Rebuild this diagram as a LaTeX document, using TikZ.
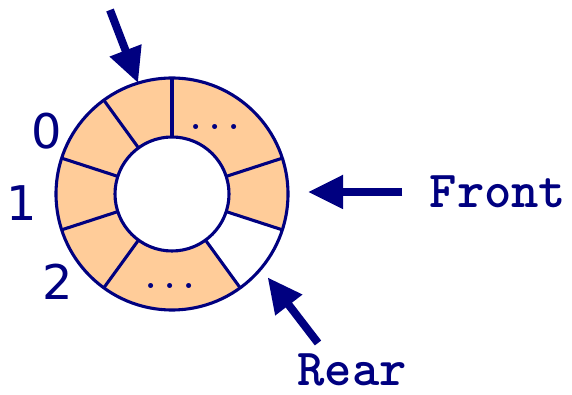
\documentclass[tikz,border=0pt]{standalone}
\usepackage{fontspec}
\setmainfont{DejaVu Sans}
\usetikzlibrary{arrows.meta}
\definecolor{navy}{RGB}{0,0,128}
\definecolor{slot}{RGB}{255,204,153}
\tikzset{
  ringline/.style={draw=navy, line width=2.2pt},
  arr/.style={navy, line width=0.2cm, -{Triangle[length=0.875cm,width=0.8cm]}},
  idx/.style={navy, inner sep=0pt, font=\fontsize{34}{36}\selectfont},
  tag/.style={navy, inner sep=0pt, font=\ttfamily\bfseries\fontsize{37}{40}\selectfont},
  dots/.style={navy, inner sep=0pt, anchor=base, font=\ttfamily\bfseries\fontsize{26}{28}\selectfont},
}
\begin{document}
\begin{tikzpicture}
\useasboundingbox (0,0) rectangle (14.3,9.85);
\coordinate (c) at (4.3,5);
\foreach \a/\b in {18/90, 90/126, 126/162, 162/198, 198/234, 234/306, 342/378}
  \fill[slot, shift={(c)}] (\a:2.9) arc[start angle=\a, end angle=\b, radius=2.9]
    -- (\b:1.425) arc[start angle=\b, end angle=\a, radius=1.425] -- cycle;
\draw[ringline] (c) circle[radius=2.9];
\draw[ringline] (c) circle[radius=1.425];
\foreach \a in {18,90,126,162,198,234,306,342}
  \draw[ringline, shift={(c)}] (\a:1.425) -- (\a:2.9);
\node[circle, minimum size=5.8cm, inner sep=0pt, outer sep=0pt] (ring) at (c) {};

\node[dots] (dtop) at (5.375,6.6) {...};
\node[dots] (dbot) at (4.25,2.625) {...};

\node[idx] (i0) at (1.175,6.575) {0};
\node[idx] (i1) at (0.55,4.775) {1};
\node[idx] (i2) at (1.45,2.8) {2};

\node[tag] (front) at (12.45,5.05) {Front};
\node[tag] (rear) at (8.8,0.6) {Rear};

\coordinate (toptail) at (2.75,9.6);
\coordinate (reartail) at (7.95,1.275);
\draw[arr] (toptail) -- (ring.107);
\draw[arr, shorten <=0.675cm, shorten >=0.5cm] (front.west) -- (front.west -| ring.east);
\draw[arr, shorten >=0.275cm] (reartail) -- (ring.320);
\end{tikzpicture}
\end{document}
